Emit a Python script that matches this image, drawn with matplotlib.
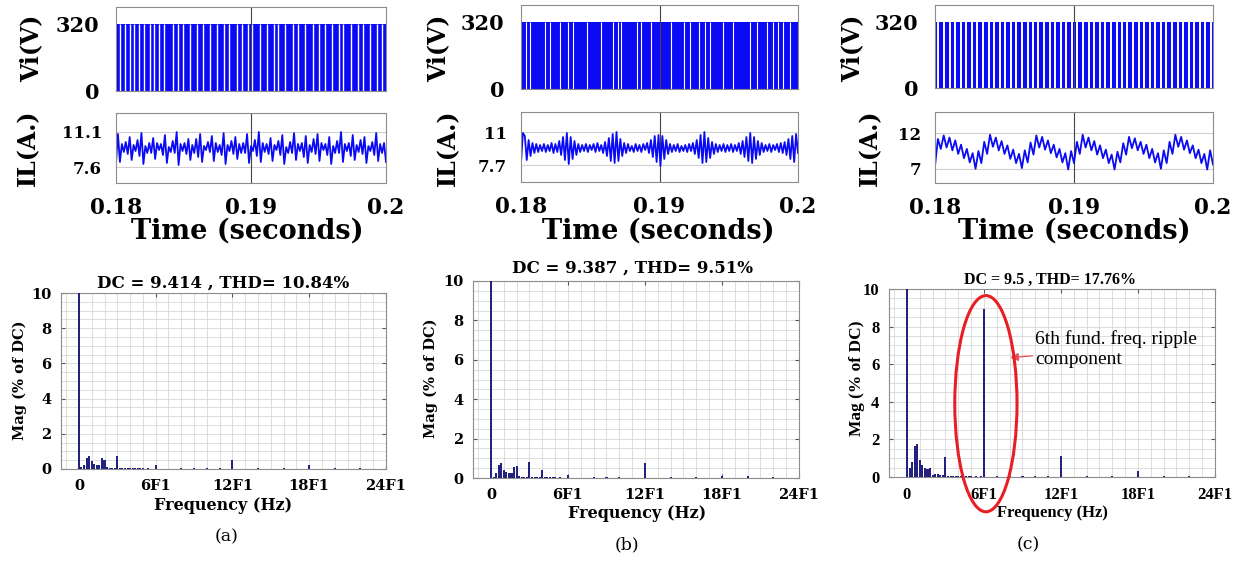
import numpy as np
import matplotlib.pyplot as plt
from matplotlib.patches import Ellipse

W, H = 1242, 561

# scope window (s)
t_start, t_end = 0.18, 0.20
time_ticks = [0.18, 0.19, 0.2]
time_ticklabels = ['0.18', '0.19', '0.2']

# PWM input voltage: on level and the white notches (ms after 0.18 s)
vi_level = 320
vi_gaps_a = [0.30, 0.66, 1.03, 1.37, 1.70, 2.07, 2.51, 2.84, 3.17, 3.54, 4.21, 4.58,
             4.94, 5.46, 5.98, 6.42, 6.94, 7.45, 7.97, 8.34, 8.93, 9.37, 9.80, 10.1,
             10.7, 11.2, 11.7, 12.0, 12.5, 13.1, 13.5, 14.0, 14.6, 15.0, 15.5, 16.0,
             16.5, 16.8, 17.4, 17.9, 18.3, 18.8, 19.3, 19.7]
vi_gaps_b = [0.33, 0.65, 1.72, 2.08, 2.80, 3.39, 3.75, 4.75, 5.78, 6.62, 6.98, 7.22,
             8.41, 8.65, 9.37, 10.80, 11.76, 12.23, 12.83, 13.31, 13.67, 14.62, 15.34,
             16.53, 17.01, 17.73, 18.21, 18.57, 18.92, 19.40]
vi_gaps_c = [0.25, 0.66, 1.05, 1.44, 1.86, 2.25, 2.64, 3.05, 3.46, 3.85, 4.24, 4.65,
             5.06, 5.45, 5.84, 6.25, 6.66, 7.05, 7.44, 7.85, 8.26, 8.65, 9.04, 9.45,
             9.86, 10.25, 10.64, 11.05, 11.46, 11.85, 12.24, 12.65, 13.06, 13.45, 13.84,
             14.25, 14.66, 15.05, 15.44, 15.85, 16.26, 16.65, 17.04, 17.45, 17.86,
             18.25, 18.64, 19.05, 19.46, 19.85]

# inductor current: successive local max / min (A)
il_a = [8.0,
        10.9, 8.1, 9.9, 9.1, 10.1, 8.9,   10.6, 8.3, 9.8, 9.2, 10.3, 8.7,
        11.0, 7.9, 9.7, 9.0, 10.0, 9.0,   10.5, 8.4, 10.0, 9.3, 9.9, 8.8,
        10.8, 8.0, 9.6, 9.1, 10.2, 9.0,   11.1, 7.8, 9.9, 9.2, 10.0, 8.9,
        10.4, 8.3, 9.8, 9.0, 10.4, 8.6,   10.9, 8.1, 9.7, 9.3, 10.1, 9.1,
        10.7, 8.2, 10.0, 9.1, 9.8, 8.8,   11.0, 7.9, 9.8, 9.2, 10.2, 8.9,
        10.6, 8.4, 9.9, 9.0, 10.0, 9.0,   10.9, 8.0, 9.7, 9.2, 10.3, 8.7,
        11.1, 8.1, 10.0, 9.1, 9.9, 8.9,   10.5, 8.2, 9.8, 9.3, 10.2, 8.8,
        10.8, 7.9, 9.6, 9.0, 10.1, 9.0,   11.0, 8.3, 9.9, 9.2, 10.0, 8.6,
        10.7, 8.0, 9.8, 9.1, 10.4, 8.9,   10.9, 8.2, 10.0, 9.3, 9.9, 8.8,
        10.6, 7.9, 9.7, 9.0, 10.2, 9.0,   11.1, 8.1, 9.9, 9.2, 10.0, 8.7,
        10.8, 8.3, 9.8, 9.1, 10.3, 8.9,   10.6, 8.0, 9.7, 9.2, 10.1, 8.8,
        11.0, 8.2, 9.9, 9.0, 10.0, 8.1]
il_b = [7.9, 10.9,
        10.6, 8.2, 10.2, 8.6, 9.9, 8.9, 9.8, 9.0, 9.7, 9.1, 9.8, 9.0,
        9.7, 9.1, 9.9, 8.9, 9.8, 9.0, 10.1, 8.7, 10.5, 8.2, 10.9, 7.8,
        10.5, 8.3, 10.1, 8.7, 9.8, 9.0, 9.7, 9.1, 9.8, 9.0, 9.7, 9.2,
        9.8, 9.0, 9.9, 9.1, 9.7, 8.9, 10.0, 8.6, 10.4, 8.1, 10.8, 7.9,
        11.0, 8.1, 10.3, 8.6, 9.9, 8.9, 9.8, 9.1, 9.6, 9.0, 9.8, 9.1,
        9.7, 9.0, 9.8, 9.2, 9.9, 8.9, 10.2, 8.5, 10.6, 8.0, 10.7, 7.6,
        10.6, 8.3, 10.2, 8.8, 9.8, 9.0, 9.7, 9.1, 9.8, 9.0, 9.6, 9.1,
        9.7, 9.0, 9.8, 9.1, 9.9, 8.8, 10.2, 8.4, 10.7, 7.9, 11.0, 8.0,
        10.4, 8.4, 10.0, 8.8, 9.8, 9.0, 9.7, 9.1, 9.8, 9.0, 9.7, 9.1,
        9.8, 9.0, 9.7, 9.1, 9.9, 8.8, 10.1, 8.5, 10.5, 8.1, 10.9, 7.9,
        10.5, 8.3, 10.1, 8.7, 9.9, 9.0, 9.7, 9.1, 9.8, 9.0, 9.7, 9.2,
        9.8, 9.0, 9.9, 8.9, 10.0, 8.7, 10.3, 8.3, 10.6, 8.0, 10.8, 8.9]
il_c = [7.4,
        11.2, 9.8, 11.7, 10.0, 11.4, 9.6, 11.0, 9.1, 10.4, 8.5, 9.8, 7.9, 9.2, 7.0,
        9.5, 7.8, 10.8, 9.1, 11.8, 10.1, 11.4, 9.6, 10.9, 9.1, 10.3, 8.4, 9.7, 7.8, 9.1, 7.1,
        9.6, 7.9, 10.7, 9.0, 11.7, 10.0, 11.5, 9.7, 11.0, 9.2, 10.4, 8.6, 9.8, 7.9, 9.2, 6.9,
        9.5, 7.8, 10.8, 9.1, 11.8, 10.0, 11.4, 9.6, 10.9, 9.0, 10.3, 8.5, 9.7, 7.8, 9.0, 6.9,
        9.4, 7.9, 10.6, 9.0, 11.5, 9.9, 11.3, 9.6, 10.8, 9.1, 10.4, 8.5, 9.8, 7.9, 9.2, 7.0,
        9.6, 7.8, 10.8, 9.1, 11.8, 10.1, 11.5, 9.7, 11.0, 9.2, 10.3, 8.5, 9.7, 7.8, 9.1, 6.9,
        9.6, 7.6]
il_ticks = [[7.6, 11.1], [7.7, 11], [7, 12]]
il_ticklabels = [['7.6', '11.1'], ['7.7', '11'], ['7', '12']]
il_limits = [(6, 13), (6, 13), (5, 15)]

# FFT of the current, frequency in multiples of F1, magnitude in % of DC
fft_freq_a = [0, 0.2, 0.4, 0.6, 0.8, 1.0, 1.2, 1.4, 1.6, 1.8, 2.0, 2.2, 2.4, 2.6, 2.8, 3.0,
              3.2, 3.4, 3.6, 3.8, 4.0, 4.2, 4.4, 4.6, 4.8, 5.0, 5.4, 6.0,
              8, 9, 10, 11, 12, 14, 16, 18, 20, 22]
fft_mag_a = [100, 0.10, 0.25, 0.65, 0.75, 0.45, 0.30, 0.22, 0.22, 0.62, 0.52, 0.10, 0.07, 0.07, 0.06, 0.75,
             0.05, 0.05, 0.05, 0.04, 0.05, 0.04, 0.04, 0.04, 0.03, 0.04, 0.03, 0.20,
             0.05, 0.04, 0.06, 0.03, 0.50, 0.04, 0.03, 0.20, 0.03, 0.03]
fft_freq_b = [0, 0.2, 0.4, 0.6, 0.8, 1.0, 1.2, 1.4, 1.6, 1.8, 2.0, 2.2, 2.4, 2.6, 2.8, 3.0,
              3.2, 3.4, 3.6, 3.8, 4.0, 4.2, 4.4, 4.6, 4.8, 5.0, 5.4, 6.0,
              8, 9, 10, 12, 14, 16, 18, 20, 22]
fft_mag_b = [100, 0.05, 0.25, 0.65, 0.75, 0.40, 0.30, 0.25, 0.25, 0.55, 0.60, 0.10, 0.07, 0.07, 0.06, 0.80,
             0.05, 0.05, 0.05, 0.04, 0.40, 0.04, 0.04, 0.03, 0.04, 0.03, 0.03, 0.15,
             0.05, 0.04, 0.04, 0.75, 0.05, 0.03, 0.10, 0.12, 0.05]
fft_freq_c = [0, 0.2, 0.4, 0.6, 0.8, 1.0, 1.2, 1.4, 1.6, 1.8, 2.0, 2.2, 2.4, 2.6, 2.8, 3.0,
              3.2, 3.4, 3.6, 3.8, 4.0, 4.2, 4.4, 4.6, 4.8, 5.0, 5.4, 5.8, 6.0,
              7, 8, 9, 10, 11, 12, 14, 16, 18, 20, 22]
fft_mag_c = [100, 0.50, 0.80, 1.65, 1.78, 0.90, 0.65, 0.50, 0.45, 0.50, 0.10, 0.15, 0.15, 0.12, 0.10, 1.05,
             0.06, 0.05, 0.05, 0.05, 0.05, 0.04, 0.04, 0.04, 0.04, 0.04, 0.04, 0.04, 8.95,
             0.03, 0.04, 0.06, 0.03, 0.03, 1.10, 0.03, 0.03, 0.30, 0.03, 0.03]
fft_ticks = [0, 6, 12, 18, 24]
fft_ticklabels = ['0', '6F1', '12F1', '18F1', '24F1']
fft_titles = ['DC = 9.414 , THD= 10.84%', 'DC = 9.387 , THD= 9.51%', 'DC = 9.5 , THD= 17.76%']
captions = ['(a)', '(b)', '(c)']

blue = '#0a0af5'
navy = '#23237f'
spine_col = '#8c8c8c'

plt.rcParams['font.family'] = 'DejaVu Serif'
fig = plt.figure(figsize=(W / 100, H / 100), dpi=100)


def px_axes(x0, y0, x1, y1):
    return fig.add_axes([x0 / W, 1 - y1 / H, (x1 - x0) / W, (y1 - y0) / H])


def put(x, y, s, **kw):
    kw.setdefault('ha', 'center')
    kw.setdefault('va', 'center')
    fig.text(x / W, 1 - y / H, s, **kw)


def style_box(ax):
    for sp in ax.spines.values():
        sp.set_color(spine_col)
        sp.set_linewidth(0.8)


# ---------------- top row: Vi and IL traces ----------------
vi_boxes = [(116, 7, 386, 91), (521, 5, 798, 89), (935, 5, 1213, 88)]
il_boxes = [(116, 113, 386, 183), (521, 112, 798, 182), (935, 112, 1213, 183)]
vi_gaps = [vi_gaps_a, vi_gaps_b, vi_gaps_c]
gap_lw = [1.0, 0.8, 1.4]
il_data = [il_a, il_b, il_c]
vi_lab_x = [31, 438, 852]
il_lab_x = [28, 448, 870]
time_lab_x = [247, 658, 1074]

for k in range(3):
    ax = px_axes(*vi_boxes[k])
    ax.fill_between([t_start, t_end], 0, vi_level, color=blue, lw=0)
    gaps_t = t_start + np.array(vi_gaps[k]) / 1000
    ax.vlines(gaps_t, 0, vi_level, colors='white', lw=gap_lw[k])
    ax.axvline(0.19, color='#444444', lw=0.8)
    ax.set_xlim(t_start, t_end)
    ax.set_ylim(0, 400)
    ax.set_xticks(time_ticks)
    ax.set_xticklabels([])
    ax.set_yticks([0, 320])
    ax.set_yticklabels(['0', '320'], fontsize=15, fontweight='bold')
    ax.tick_params(axis='both', direction='in', length=0, pad=12)
    style_box(ax)
    put(vi_lab_x[k], 48, 'Vi(V)', rotation=90, fontsize=17, fontweight='bold')

    ax = px_axes(*il_boxes[k])
    il = il_data[k]
    t = np.linspace(t_start, t_end, len(il))
    ax.plot(t, il, color=blue, lw=1.3)
    for yv in il_ticks[k]:
        ax.axhline(yv, color='#cfcfcf', lw=0.8, zorder=0)
    ax.axvline(0.19, color='#444444', lw=0.8, zorder=0)
    ax.set_xlim(t_start, t_end)
    ax.set_ylim(*il_limits[k])
    ax.set_xticks(time_ticks)
    ax.set_xticklabels(time_ticklabels, fontsize=15.5, fontweight='bold')
    ax.set_yticks(il_ticks[k])
    ax.set_yticklabels(il_ticklabels[k], fontsize=12, fontweight='bold')
    ax.tick_params(axis='y', direction='in', length=0, pad=10)
    ax.tick_params(axis='x', direction='in', length=0, pad=10)
    style_box(ax)
    put(il_lab_x[k], 148, 'IL(A.)', rotation=90, fontsize=17, fontweight='bold')
    put(time_lab_x[k], 231, 'Time (seconds)', fontsize=19.5, fontweight='bold')

# ---------------- bottom row: FFT spectra ----------------
fft_boxes = [(61, 293, 386, 469), (473, 281, 799, 478), (889, 289, 1215, 477)]
fft_data = [(fft_freq_a, fft_mag_a), (fft_freq_b, fft_mag_b), (fft_freq_c, fft_mag_c)]
fams = ['DejaVu Serif', 'DejaVu Serif', 'Liberation Serif']
tick_fs = [10.5, 10.5, 12]
title_fs = [12, 12, 11.5]
ylab_fs = [10.5, 10.5, 12.5]
xlab_fs = [11.5, 11.5, 12]
title_xy = [(223, 283), (632, 268), (1050, 280)]
ylab_xy = [(20, 380), (431, 378), (857, 378)]
xlab_xy = [(223, 505), (637, 514), (1052, 513)]
cap_xy = [(227, 537), (627, 545), (1028, 545)]

for k in range(3):
    ax = px_axes(*fft_boxes[k])
    freq, mag = fft_data[k]
    ax.bar(freq, mag, width=0.16, color=navy, lw=0, zorder=3)
    ax.set_xlim(-1.4, 24)
    ax.set_ylim(0, 10)
    ax.set_xticks(fft_ticks)
    ax.set_xticks(np.arange(-1, 25), minor=True)
    ax.set_yticks([0, 2, 4, 6, 8, 10])
    ax.set_yticks(np.arange(0, 10.01, 0.5), minor=True)
    ax.grid(which='both', color='#d8d8d8', lw=0.6, zorder=0)
    ax.set_axisbelow(True)
    ax.set_xticklabels(fft_ticklabels, fontsize=tick_fs[k], fontweight='bold', family=fams[k])
    ax.set_yticklabels(['0', '2', '4', '6', '8', '10'], fontsize=tick_fs[k], fontweight='bold',
                       family=fams[k])
    ax.tick_params(which='major', direction='in', length=3, color='#555555', pad=7,
                   right=True, top=True)
    ax.tick_params(which='minor', length=0)
    style_box(ax)
    put(*title_xy[k], fft_titles[k], fontsize=title_fs[k], fontweight='bold', family=fams[k])
    put(*ylab_xy[k], 'Mag (% of DC)', rotation=90, fontsize=ylab_fs[k],
        fontweight='bold', family=fams[k])
    put(*xlab_xy[k], 'Frequency (Hz)', fontsize=xlab_fs[k], fontweight='bold', family=fams[k])
    put(*cap_xy[k], captions[k], fontsize=12.5)

    if k == 2:
        ell = Ellipse((6.15, 3.9), 4.85, 11.5, fill=False, edgecolor='#e81e25', lw=2.2,
                      clip_on=False, zorder=5)
        ax.add_patch(ell)
        ax.annotate('6th fund. freq. ripple\ncomponent', xy=(8.05, 6.35), xytext=(10.0, 6.8),
                    ha='left', va='center', fontsize=14, family='Liberation Serif',
                    linespacing=1.25,
                    arrowprops=dict(arrowstyle='-|>', color='#e8505a', lw=0.9,
                                    mutation_scale=12, shrinkA=0, shrinkB=0))

fig.savefig('out.png', dpi=100)
